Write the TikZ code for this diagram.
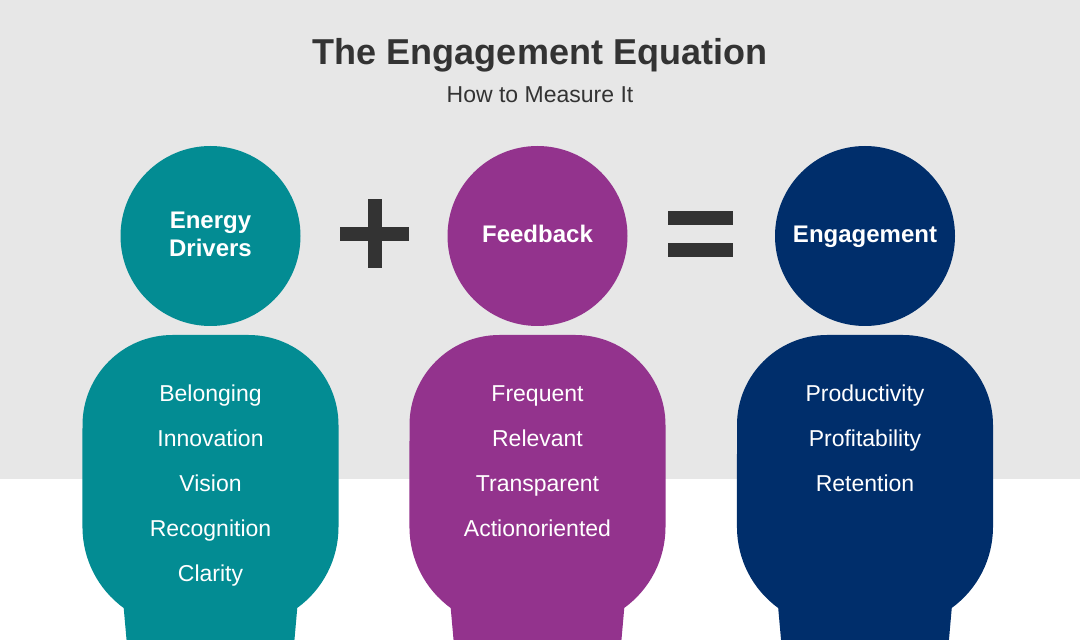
\documentclass[tikz,border=0pt]{standalone}
\usepackage{fontspec}
\setmainfont{Liberation Sans}
\definecolor{bggray}{HTML}{E7E7E7}
\definecolor{ink}{HTML}{333333}
\definecolor{tealc}{HTML}{038C93}
\definecolor{purplec}{HTML}{93338D}
\definecolor{navyc}{HTML}{002E6B}
\tikzset{
  head/.style={circle, minimum size=180pt, inner sep=0pt, fill=#1},
  headtext/.style={anchor=base, inner sep=0pt, text=white, font=\fontsize{24}{28}\selectfont\bfseries},
  item/.style={anchor=base, inner sep=0pt, text=white, font=\fontsize{23}{26}\selectfont},
  opbar/.style={fill=ink}
}
\newcommand{\bodyshape}[2]{%
  \fill[#2] (#1-86.8,32) arc[start angle=234, end angle=180, radius=100]
    -- (#1-128,215) arc[start angle=180, end angle=90, radius=90]
    -- (#1+38,305) arc[start angle=90, end angle=0, radius=90]
    -- (#1+128,113) arc[start angle=0, end angle=-54, radius=100]
    -- (#1+83.5,-5) -- (#1-83.5,-5) -- cycle;}
\begin{document}
\begin{tikzpicture}[x=1pt,y=1pt]
\useasboundingbox (0,0) rectangle (1080,640);
\fill[bggray] (0,161) rectangle (1080,640);
% title
\node[anchor=base, inner sep=0pt, text=ink, font=\fontsize{36}{40}\selectfont\bfseries] (title) at (540,575) {The Engagement Equation};
\node[anchor=base, inner sep=0pt, text=ink, font=\fontsize{23}{26}\selectfont] (subtitle) at (540,537) {How to Measure It};
% bodies
\bodyshape{210.5}{tealc}
\bodyshape{537.5}{purplec}
\bodyshape{865}{navyc}
% heads
\node[head=tealc] (h1) at (210.5,404) {};
\node[head=purplec] (h2) at (537.5,404) {};
\node[head=navyc] (h3) at (865,404) {};
\node[headtext] (h1a) at (210.5,411) {Energy};
\node[headtext] (h1b) at (210.5,383) {Drivers};
\node[headtext] (h2a) at (537.5,397) {Feedback};
\node[headtext] (h3a) at (865,397) {Engagement};
% operators
\fill[opbar] (340,399) rectangle (409,413);
\fill[opbar] (368,372) rectangle (382,441);
\fill[opbar] (668,415) rectangle (733,429);
\fill[opbar] (668,383) rectangle (733,397);
% items
\node[item] (a1) at (210.5,238) {Belonging};
\node[item] (a2) at (210.5,193) {Innovation};
\node[item] (a3) at (210.5,148) {Vision};
\node[item] (a4) at (210.5,103) {Recognition};
\node[item] (a5) at (210.5,58) {Clarity};
\node[item] (b1) at (537.5,238) {Frequent};
\node[item] (b2) at (537.5,193) {Relevant};
\node[item] (b3) at (537.5,148) {Transparent};
\node[item] (b4) at (537.5,103) {Actionoriented};
\node[item] (c1) at (865,238) {Productivity};
\node[item] (c2) at (865,193) {Profitability};
\node[item] (c3) at (865,148) {Retention};
\end{tikzpicture}
\end{document}
